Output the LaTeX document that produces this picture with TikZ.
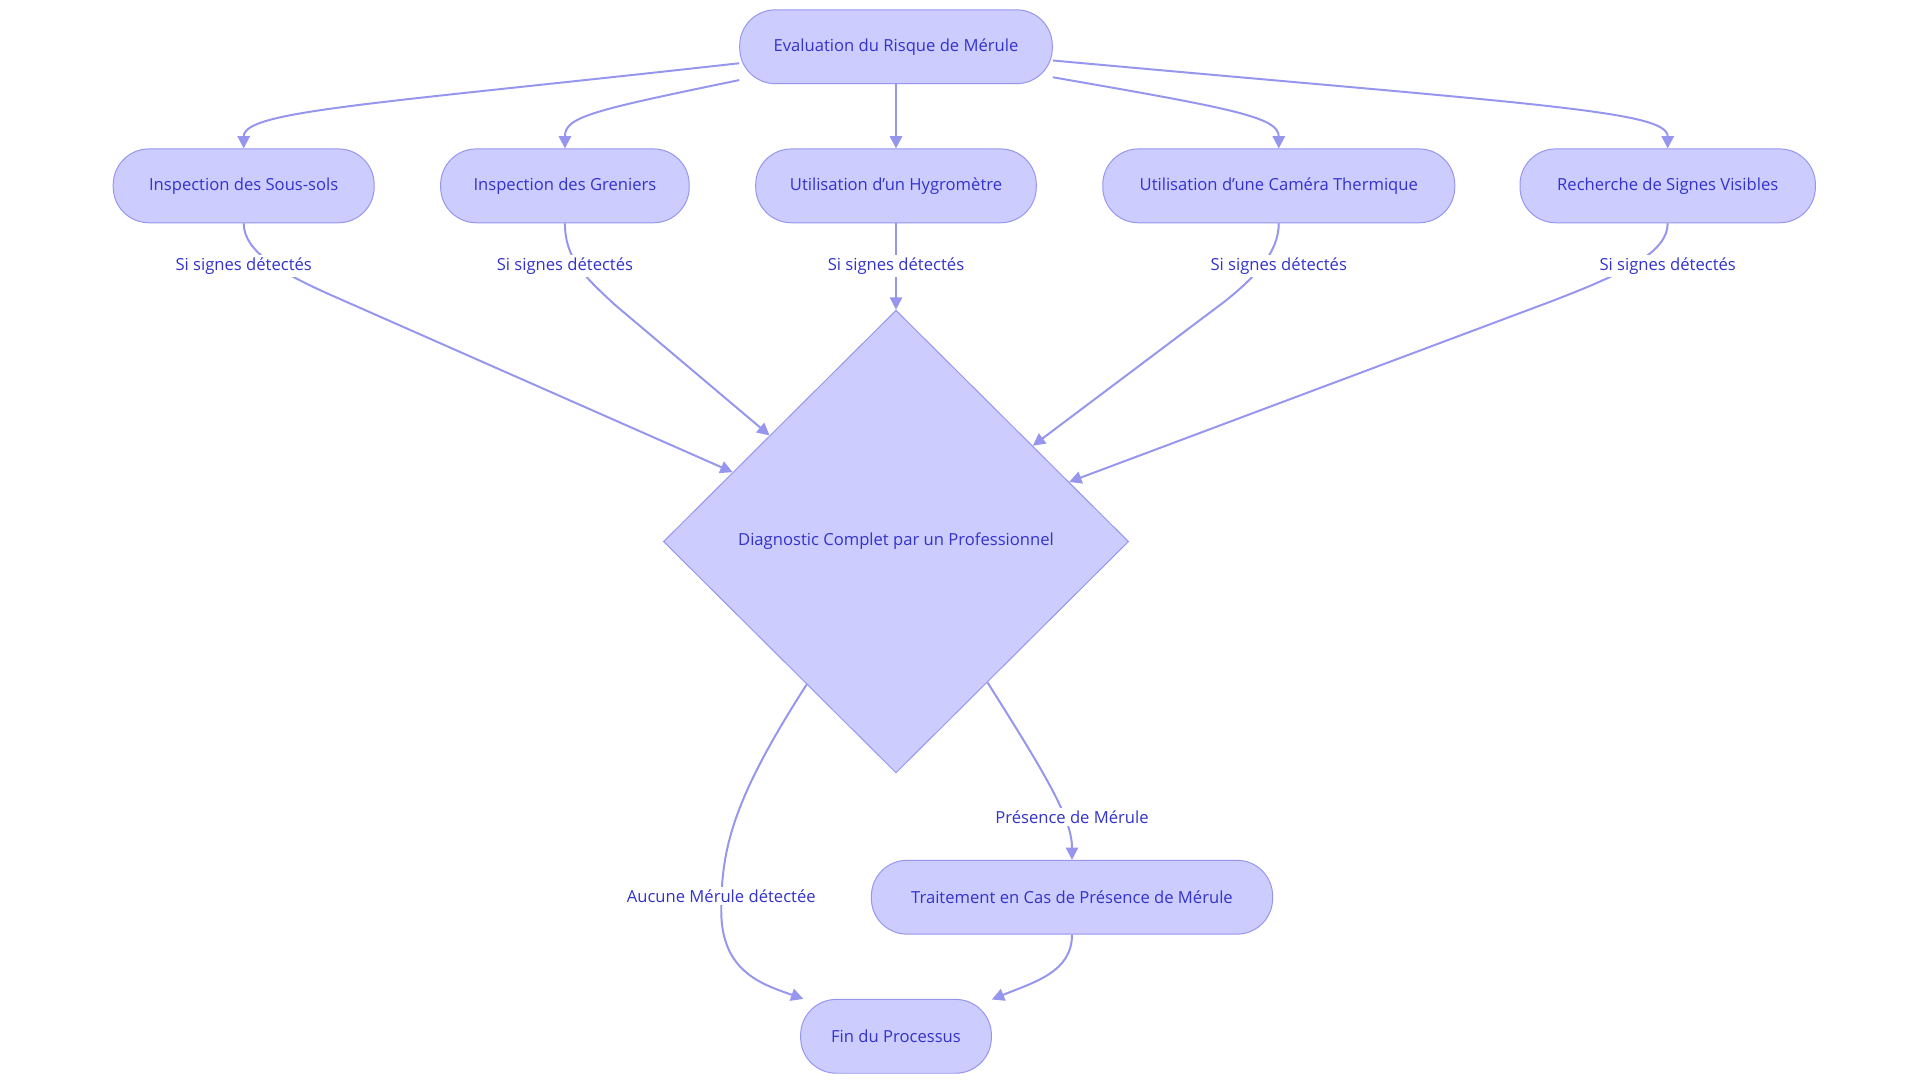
\documentclass[tikz,border=0pt]{standalone}
\usepackage{fontspec}
\setmainfont{Open Sans}
\usetikzlibrary{shapes.geometric,arrows.meta}
\definecolor{nfill}{RGB}{204,204,255}
\definecolor{nline}{RGB}{150,150,238}
\definecolor{ntext}{RGB}{51,51,204}
\tikzset{
 box/.style={draw=nline,fill=nfill,rounded corners=29pt,minimum height=60pt,text=ntext,font=\fontsize{13.5}{16}\selectfont,line width=0.8pt},
 dia/.style={diamond,draw=nline,fill=nfill,minimum width=378pt,minimum height=376pt,inner sep=0pt,text=ntext,font=\fontsize{13.5}{16}\selectfont,line width=0.8pt},
 edge/.style={draw=nline,line width=1.6pt,-{Triangle[length=10pt,width=10pt]}},
 lbl/.style={fill=white,text=ntext,font=\fontsize{13.5}{16}\selectfont,inner sep=2pt}
}
\begin{document}
\begin{tikzpicture}[x=1pt,y=-1pt]
\useasboundingbox[fill=white] (0,0) rectangle (1560,880);
\node[box,minimum width=254pt] (top) at (728,38) {Evaluation du Risque de Mérule};
\node[box,minimum width=212pt] (s1) at (198,151) {Inspection des Sous-sols};
\node[box,minimum width=202pt] (s2) at (459,151) {Inspection des Greniers};
\node[box,minimum width=228pt] (s3) at (728,151) {Utilisation d'un Hygromètre};
\node[box,minimum width=286pt] (s4) at (1039,151) {Utilisation d'une Caméra Thermique};
\node[box,minimum width=240pt] (s5) at (1355,151) {Recherche de Signes Visibles};
\node[dia] (d) at (728,440) {Diagnostic Complet par un Professionnel};
\node[box,minimum width=326pt] (tr) at (871,729) {Traitement en Cas de Présence de Mérule};
\node[box,minimum width=155pt] (fin) at (728,842) {Fin du Processus};

\draw[edge] (top.186) .. controls (300,85) and (198,90) .. (s1.north);
\draw[edge] (top.192) .. controls (480,90) and (459,95) .. (s2.north);
\draw[edge] (top.south) -- (s3.north);
\draw[edge] (top.349) .. controls (1000,88) and (1039,95) .. (s4.north);
\draw[edge] (top.355) .. controls (1250,85) and (1355,90) .. (s5.north);

\draw[edge] (s1.south) .. controls (198,205) and (230,222) .. (265,238) -- (d.157);
\draw[edge] (s2.south) .. controls (459,210) and (475,225) .. (500,248) -- (d.140);
\draw[edge] (s3.south) -- (d.north);
\draw[edge] (s4.south) .. controls (1039,205) and (1020,225) .. (995,245) -- (d.35);
\draw[edge] (s5.south) .. controls (1355,205) and (1320,222) .. (1260,245) -- (d.19);
\node[lbl] (l1) at (198,216) {Si signes détectés};
\node[lbl] (l2) at (459,216) {Si signes détectés};
\node[lbl] (l3) at (728,216) {Si signes détectés};
\node[lbl] (l4) at (1039,216) {Si signes détectés};
\node[lbl] (l5) at (1355,216) {Si signes détectés};

\draw[edge] (d.238) .. controls (595,650) and (586,690) .. (586,740) .. controls (586,790) and (620,800) .. (fin.158);
\draw[edge] (d.303) .. controls (850,630) and (871,665) .. (tr.north);
\draw[edge] (tr.south) .. controls (871,790) and (840,798) .. (fin.21);
\node[lbl] (l6) at (586,728) {Aucune Mérule détectée};
\node[lbl] (l7) at (871,664) {Présence de Mérule};
\end{tikzpicture}
\end{document}
